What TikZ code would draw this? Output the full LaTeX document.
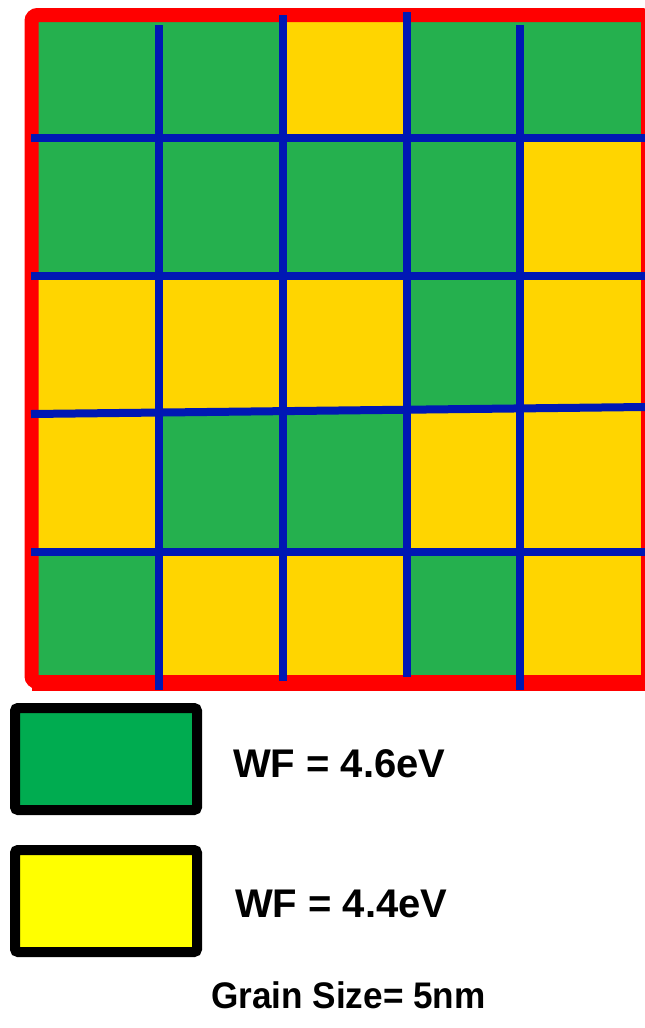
\documentclass[tikz,border=0pt]{standalone}
\usepackage{fontspec}
\setmainfont{Liberation Sans}
\definecolor{grainG}{RGB}{37,176,78}
\definecolor{grainY}{RGB}{255,213,0}
\definecolor{gridblue}{RGB}{0,24,180}
\definecolor{framered}{RGB}{255,0,0}
\definecolor{keygreen}{RGB}{0,172,80}
\definecolor{keyyellow}{RGB}{255,255,0}
\begin{document}
\begin{tikzpicture}[x=1pt, y=-1pt,
    boundary/.style={draw=gridblue, line width=8pt},
    keybox/.style={draw=black, line width=10pt, rounded corners=3pt, minimum width=182pt, minimum height=102pt},
    keytext/.style={anchor=base west, inner sep=0pt, font=\bfseries\fontsize{40}{48}\selectfont}]
    \useasboundingbox (0,0) rectangle (645,1028);
    % grains, row by row
    \foreach \ya/\yb/\cols in {22/138/{G,G,Y,G,G}, 138/276/{G,G,G,G,Y}, 276/412/{Y,Y,Y,G,Y}, 412/552/{Y,G,G,Y,Y}, 552/675/{G,Y,Y,G,Y}}
        \foreach \c [count=\j] in \cols {
            \pgfmathsetmacro\xa{{38,159,283,407,520}[\j-1]}
            \pgfmathsetmacro\xb{{159,283,407,520,645}[\j-1]}
            \fill[grain\c] (\xa,\ya) rectangle (\xb,\yb);
        }
    \draw[framered, line width=14pt, rounded corners=6pt] (31.5,15) rectangle (648,682);
    \draw[framered, line width=4pt] (31.5,688.5) -- (645,688.5);
    % grain boundaries
    \draw[boundary] (159,25) -- (159,690);
    \draw[boundary] (283,15) -- (283,681);
    \draw[boundary] (407,12) -- (407,677);
    \draw[boundary] (520,25) -- (520,690);
    \draw[boundary] (31,138) -- (645,138);
    \draw[boundary] (31,276) -- (645,276);
    \draw[boundary] (31,414) -- (645,407);
    \draw[boundary] (31,552) -- (645,552);
    % legend
    \node[keybox, fill=keygreen] (keyhigh) at (106,759) {};
    \node[keybox, fill=keyyellow] (keylow) at (106,901) {};
    \node[keytext] (wfhigh) at (233,777) {WF = 4.6eV};
    \node[keytext] (wflow) at (235,917) {WF = 4.4eV};
    \node[anchor=base west, inner sep=0pt, font=\bfseries\fontsize{37}{44}\selectfont] (grainsize) at (211,1008) {\scalebox{0.95}[1]{Grain Size= 5nm}};
\end{tikzpicture}
\end{document}
